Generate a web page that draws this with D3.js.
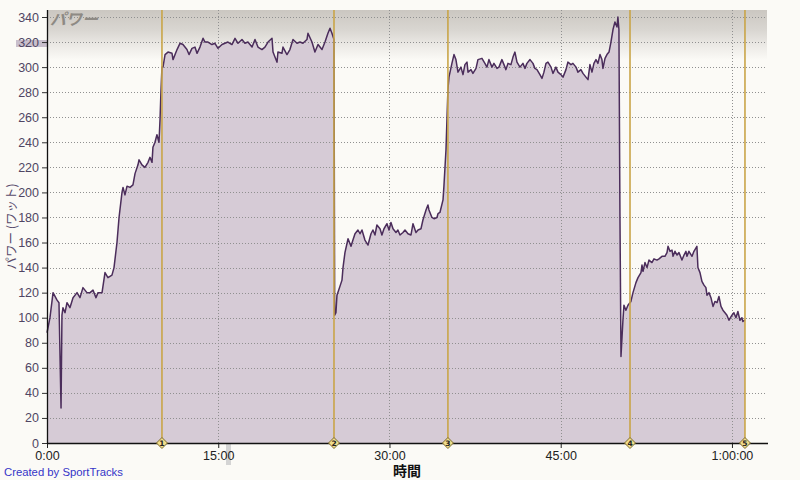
<!DOCTYPE html>
<html>
<head>
<meta charset="utf-8">
<script src="https://cdn.jsdelivr.net/npm/d3@7"></script>
<style>
  html,body{margin:0;padding:0;background:#FBFAF6;}
  svg{display:block;}
</style>
</head>
<body>
<svg id="chart" width="800" height="480"></svg>
<script>
// ---- data (minutes, watts) ----
const times = [
 0,0.26,0.53,0.88,1.05,1.23,1.31,1.40,1.58,1.75,2.01,2.28,2.63,2.89,3.15,3.50,3.77,4.03,4.29,4.47,4.82,5.08,5.34,5.69,5.87,6.13,6.31,6.57,6.66,6.83,7.01,7.27,7.53,7.71,7.97,8.06,8.32,8.58,8.85,9.02,9.20,9.28,9.46,9.63,9.81,9.90,9.98,10.07,
 10.16,10.34,10.60,10.95,11.04,11.39,11.65,11.91,12.26,12.44,12.70,12.96,13.14,13.40,13.67,13.84,14.10,14.45,14.71,14.98,15.33,15.59,15.85,16.20,16.47,16.73,17.08,17.34,17.60,17.96,18.22,18.48,18.83,19.09,19.36,19.71,19.80,19.97,20.15,20.23,20.58,20.67,21.02,21.28,21.55,21.90,22.16,22.42,22.77,22.86,23.21,23.47,23.74,24.09,24.35,24.61,24.79,24.96,25.14,
 25.20,25.31,25.40,25.66,25.84,25.93,26.10,26.37,26.63,26.80,26.98,27.24,27.42,27.59,27.85,28.12,28.38,28.55,28.73,28.90,29.17,29.34,29.52,29.78,29.96,30.13,30.31,30.57,30.74,30.92,31.18,31.36,31.62,31.88,32.06,32.32,32.50,32.76,32.93,33.20,33.37,33.46,33.72,33.90,34.16,34.25,34.42,34.69,34.77,34.95,35.12,35.21,
 35.47,35.65,35.82,36.00,36.26,36.44,36.61,36.79,36.88,37.14,37.31,37.58,37.75,38.10,38.36,38.54,38.71,38.98,39.15,39.42,39.59,39.85,40.03,40.20,40.38,40.64,40.82,40.99,41.17,41.43,41.69,41.87,42.04,42.31,42.57,42.74,42.92,43.18,43.36,43.53,43.71,43.88,44.15,44.32,44.58,44.76,45.02,45.20,45.46,45.63,45.90,46.07,46.34,46.51,46.77,46.95,47.21,47.39,47.56,47.74,47.91,48.09,48.26,48.44,48.61,48.70,48.88,49.05,49.23,49.40,49.58,49.75,49.93,50.01,50.10,50.19,50.28,
 50.45,50.54,50.71,50.89,51.15,51.33,51.59,51.77,52.03,52.12,52.21,52.38,52.56,52.73,52.99,53.17,53.43,53.61,53.87,54.13,54.31,54.40,54.57,54.75,54.84,55.01,55.19,55.36,55.62,55.80,55.97,56.06,56.23,56.50,56.67,56.93,57.02,57.20,57.37,57.55,57.72,57.81,57.99,58.16,58.34,58.51,58.69,58.86,59.04,59.21,59.39,59.56,59.74,60.00,60.17,60.35,60.52,60.70,60.87,60.96,61.14
];
const watts = [
 88,100,120,114,112,28,102,108,104,112,108,116,120,116,124,120,120,122,116,120,120,136,132,134,140,160,180,200,204,198,205,204,206,215,222,226,222,220,224,228,224,236,240,246,240,258,280,300,
 300,310,312,311,306,314,319,318,314,310,315,316,311,316,323,320,320,318,319,315,318,319,320,318,323,319,322,319,320,316,322,316,314,316,320,323,312,308,304,312,311,316,310,314,322,319,320,319,322,327,320,312,318,314,320,327,331,327,322,
 102,104,118,125,130,140,152,163,157,162,167,170,167,170,162,158,167,170,166,174,171,166,171,175,170,176,171,168,170,166,168,170,167,166,175,168,170,171,178,186,190,186,180,179,180,183,184,194,205,234,282,292,
 303,310,306,296,300,294,302,304,296,298,295,299,306,307,303,300,306,300,303,299,300,306,302,298,303,302,308,312,304,300,303,299,303,306,303,299,298,294,291,296,303,304,300,295,300,296,294,292,298,304,302,303,300,296,298,295,292,290,302,296,303,306,303,310,306,299,307,310,312,320,330,336,332,340,330,180,69,
 98,110,106,110,113,120,128,132,136,142,137,144,140,146,144,147,146,147,149,149,152,157,153,154,149,153,150,152,146,150,153,149,153,149,153,157,140,136,129,126,124,118,120,116,109,113,112,117,109,106,104,102,98,102,104,100,105,98,100,97,98
];
const yTicks = [0,20,40,60,80,100,120,140,160,180,200,220,240,260,280,300,320,340];
const xTickMinutes = [0,15,30,45,60];
const xTickLabels = ["0:00","15:00","30:00","45:00","1:00:00"];
const lapTimes = [10.07,25.14,35.12,51.07,61.14];
const lapLabels = ["1","2","3","4","5"];
const xMax = 63.07;
const yTitle = "パワー (ワット)";
const xTitle = "時間";
const chartTitle = "パワー";
const credit = "Created by SportTracks";

// ---- layout ----
const L = 47, R = 767, T = 10, B = 443;
const svg = d3.select("#chart");
const x = d3.scaleLinear().domain([0, xMax]).range([L, R]);
const y = d3.scaleLinear().domain([0, 340]).range([B, 17]);
const data = times.map((t,i)=>({t, v: watts[i]}));

const defs = svg.append("defs");
const g = defs.append("linearGradient").attr("id","band").attr("x1",0).attr("y1",0).attr("x2",0).attr("y2",1);
g.append("stop").attr("offset","0%").attr("stop-color","#cbc7c1");
g.append("stop").attr("offset","40%").attr("stop-color","#d9d6d1");
g.append("stop").attr("offset","75%").attr("stop-color","#eeece8");
g.append("stop").attr("offset","100%").attr("stop-color","#FBFAF6");

svg.append("rect").attr("width",800).attr("height",480).attr("fill","#FBFAF6");
svg.append("rect").attr("x",L).attr("y",T).attr("width",R-L).attr("height",50).attr("fill","url(#band)");

// area
const area = d3.area().x(d=>x(d.t)).y0(y(0)).y1(d=>y(d.v));
svg.append("path").datum(data).attr("d",area).attr("fill","#d6cbd6");

// grid
svg.append("g").selectAll("line.h").data(yTicks.filter(d=>d>0)).join("line")
  .attr("x1",L).attr("x2",R).attr("y1",d=>Math.round(y(d))+0.5).attr("y2",d=>Math.round(y(d))+0.5)
  .attr("stroke","#909090").attr("stroke-width",1).attr("stroke-dasharray","1,2");
svg.append("g").selectAll("line.v").data(xTickMinutes.filter(d=>d>0)).join("line")
  .attr("x1",d=>Math.round(x(d))+0.5).attr("x2",d=>Math.round(x(d))+0.5).attr("y1",T).attr("y2",B)
  .attr("stroke","#909090").attr("stroke-width",1).attr("stroke-dasharray","1,2");

// line
const line = d3.line().x(d=>x(d.t)).y(d=>y(d.v));
svg.append("path").datum(data).attr("d",line).attr("fill","none")
  .attr("stroke","#4b2d5b").attr("stroke-width",1.5).attr("stroke-linejoin","round");

// lap lines
svg.append("g").selectAll("line").data(lapTimes).join("line")
  .attr("x1",d=>x(d)).attr("x2",d=>x(d)).attr("y1",T).attr("y2",B)
  .attr("stroke","#c9a548").attr("stroke-width",1.6);

// cursor indicators
svg.append("rect").attr("x",16).attr("y",40).attr("width",L-16).attr("height",7).attr("fill","#c9bfcc");
svg.append("rect").attr("x",226).attr("y",B).attr("width",5).attr("height",22).attr("fill","#d4d4d4");

// axes
const yAxis = svg.append("g").attr("transform",`translate(${L},0)`)
  .call(d3.axisLeft(y).tickValues(yTicks).tickSize(5).tickPadding(3));
yAxis.select(".domain").remove();
yAxis.selectAll("line").attr("stroke","#333");
yAxis.selectAll("text").attr("fill","#4f4563").attr("font-family","Liberation Sans, Arial, sans-serif").attr("font-size","12.5px");

const xAxis = svg.append("g").attr("transform",`translate(0,${B})`)
  .call(d3.axisBottom(x).tickValues(xTickMinutes).tickFormat((d,i)=>xTickLabels[i]).tickSize(5).tickPadding(3));
xAxis.select(".domain").remove();
xAxis.selectAll("line").attr("stroke","#222");
xAxis.selectAll("text").attr("fill","#222").attr("font-family","Liberation Sans, Arial, sans-serif").attr("font-size","12.5px");

svg.append("line").attr("x1",L+0.5).attr("x2",L+0.5).attr("y1",T).attr("y2",B+1).attr("stroke","#111").attr("stroke-width",1.3);
svg.append("line").attr("x1",L).attr("x2",R+1).attr("y1",B+0.5).attr("y2",B+0.5).attr("stroke","#111").attr("stroke-width",1.3);

// lap diamonds
const dm = svg.append("g").selectAll("g").data(lapTimes).join("g")
  .attr("transform",d=>`translate(${x(d)},${B})`);
dm.append("path").attr("d","M0,-5.5L5.5,0L0,5.5L-5.5,0Z").attr("fill","#f0dc8a").attr("stroke","#7d6b2e").attr("stroke-width",1);
dm.append("text").text((d,i)=>lapLabels[i]).attr("text-anchor","middle").attr("y",3)
  .attr("font-family","DejaVu Sans, sans-serif").attr("font-size","7.5px").attr("font-weight","bold").attr("fill","#222");

// texts
svg.append("text").text(chartTitle).attr("x",50).attr("y",25)
  .attr("font-family","Noto Sans CJK JP, sans-serif").attr("font-size","16px").attr("font-style","italic")
  .attr("font-weight","bold").attr("fill","#8e8a84");
svg.append("text").text(yTitle).attr("transform",`translate(16,${(T+B)/2}) rotate(-90)`)
  .attr("text-anchor","middle").attr("font-family","Noto Sans CJK JP, sans-serif").attr("font-size","12.5px").attr("fill","#574b6c");
svg.append("text").text(xTitle).attr("x",(L+R)/2).attr("y",476).attr("text-anchor","middle")
  .attr("font-family","Noto Sans CJK JP, sans-serif").attr("font-size","14px").attr("font-weight","bold").attr("fill","#111");
svg.append("text").text(credit).attr("x",4).attr("y",476)
  .attr("font-family","Liberation Sans, Arial, sans-serif").attr("font-size","11.3px").attr("fill","#3535c8");
</script>
</body>
</html>
